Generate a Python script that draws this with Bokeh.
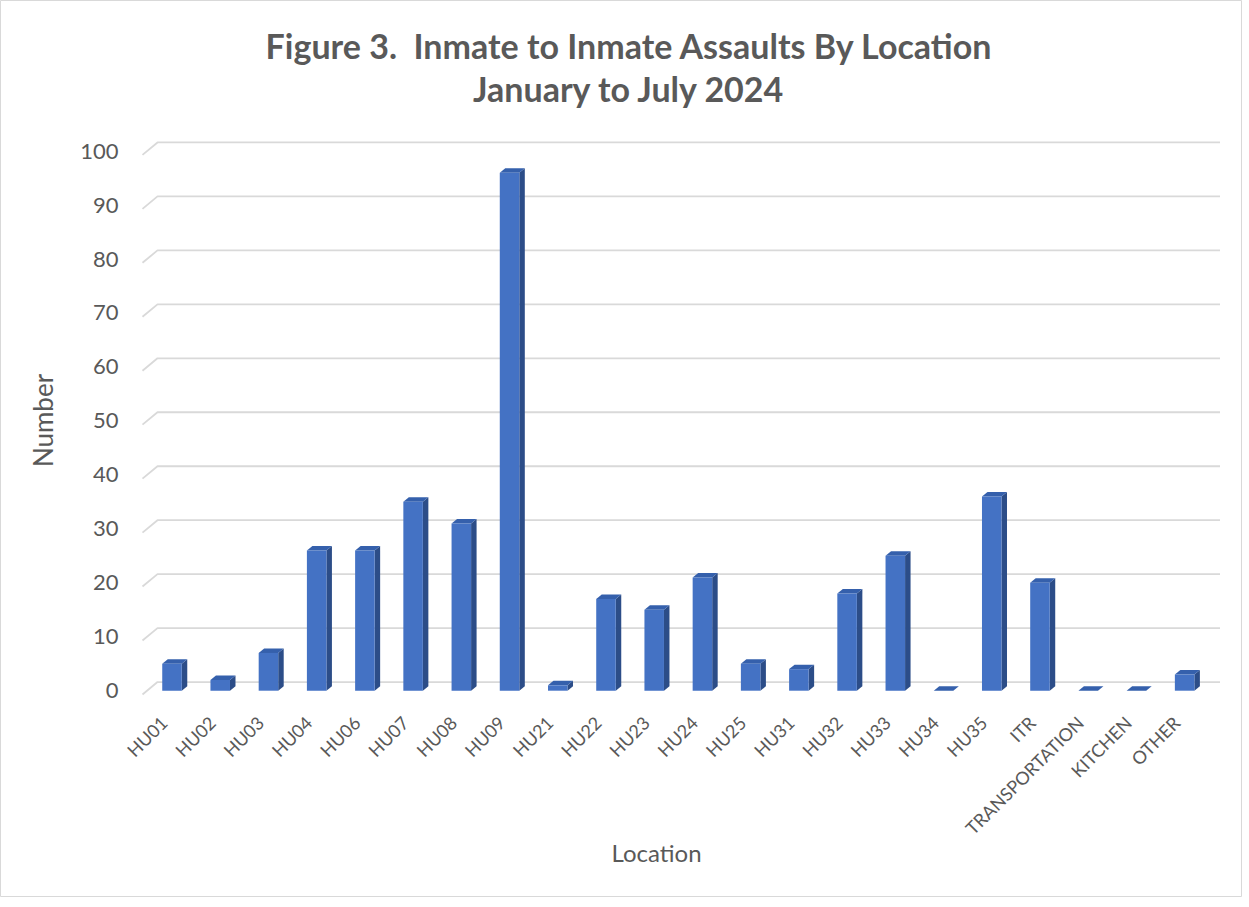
import math
from bokeh.plotting import figure
from bokeh.models import FixedTicker, Range1d, Label
from bokeh.embed import file_html
from bokeh.resources import INLINE

# ---- data ----
locations = ["HU01", "HU02", "HU03", "HU04", "HU06", "HU07", "HU08", "HU09",
             "HU21", "HU22", "HU23", "HU24", "HU25", "HU31", "HU32", "HU33",
             "HU34", "HU35", "ITR", "TRANSPORTATION", "KITCHEN", "OTHER"]
counts = [5, 2, 7, 26, 26, 35, 31, 96, 1, 17, 15, 21, 5, 4, 18, 25, 0, 36, 20, 0, 0, 3]
y_ticks = [0, 10, 20, 30, 40, 50, 60, 70, 80, 90, 100]

title_line1 = "Figure 3.\u00a0 Inmate to Inmate Assaults By Location"
title_line2 = "January to July 2024"
x_title = "Location"
y_title = "Number"

# ---- style ----
FONT = "Lato"
TXT = "#595959"
FRONT = "#4472C4"
SIDE = "#2C4D88"
TOP = "#3560AC"
GRID = "#D9D9D9"

W, H = 1242, 897
PX_X = 48.22   # pixels per category
PX_Y = 5.396   # pixels per unit
X0_PX = 163.5  # pixel of first tick
Y0_PX = 690.2  # pixel of value 0

# pseudo-3D geometry (in data units)
shift = 0.166      # bar centre offset from tick (depth of bar row)
hw = 0.2025        # half width of front face
ddx = 0.114        # depth offset x
ddy = 0.83         # depth offset y
g_front_x, g_back_x, g_end_x = -0.446, -0.135, 21.9
g_front_dy, g_back_dy = -0.7, 1.6
y_axis_at = -0.591
x_axis_at = -2.0

p = figure(width=W, height=H,
           x_range=Range1d(-X0_PX / PX_X, (W - X0_PX) / PX_X),
           y_range=Range1d(-(H - Y0_PX) / PX_Y, Y0_PX / PX_Y),
           output_backend="svg", toolbar_location=None,
           min_border=0, min_border_left=0, min_border_right=0,
           min_border_top=0, min_border_bottom=0)
p.outline_line_color = "#D9D9D9"
p.xgrid.visible = False
p.ygrid.visible = False

# gridlines (back wall + floor edge)
gx = [[g_front_x, g_back_x, g_end_x] for v in y_ticks]
gy = [[v + g_front_dy, v + g_back_dy, v + g_back_dy] for v in y_ticks]
p.multi_line(gx, gy, line_color=GRID, line_width=1.8)

# bars
n = len(locations)
cx = [i + shift for i in range(n)]
lefts = [c - hw for c in cx]
rights = [c + hw for c in cx]

side_xs = [[r, r + ddx, r + ddx, r] for r in rights]
side_ys = [[0, ddy, v + ddy, v] for v in counts]
p.patches(side_xs, side_ys, fill_color=SIDE, line_color=None)

top_xs = [[l, l + ddx, r + ddx, r] for l, r in zip(lefts, rights)]
top_ys = [[v, v + ddy, v + ddy, v] for v in counts]
p.patches(top_xs, top_ys, fill_color=TOP, line_color=None)

p.quad(left=lefts, right=rights, bottom=[0] * n, top=counts,
       fill_color=FRONT, line_color=None)

# x axis
xa = p.xaxis[0]
xa.fixed_location = x_axis_at
xa.ticker = FixedTicker(ticks=list(range(n)))
xa.major_label_overrides = {i: name for i, name in enumerate(locations)}
xa.major_label_orientation = math.pi / 4
xa.axis_line_color = None
xa.major_tick_line_color = None
xa.minor_tick_line_color = None
xa.major_label_text_font = FONT
xa.major_label_text_font_size = "18px"
xa.major_label_text_color = TXT
xa.major_label_standoff = 12

# y axis
ya = p.yaxis[0]
ya.fixed_location = y_axis_at
ya.ticker = FixedTicker(ticks=y_ticks)
ya.axis_line_color = None
ya.major_tick_line_color = None
ya.minor_tick_line_color = None
ya.major_label_text_font = FONT
ya.major_label_text_font_size = "22px"
ya.major_label_text_color = TXT
ya.major_label_standoff = 11

# titles as screen-positioned labels
common = dict(x_units="screen", y_units="screen", text_font=FONT,
              text_color=TXT, text_align="center", text_baseline="middle")
p.add_layout(Label(x=629, y=H - 45, text=title_line1, text_font_size="34px",
                   text_font_style="bold", **common))
p.add_layout(Label(x=629, y=H - 88, text=title_line2, text_font_size="34px",
                   text_font_style="bold", **common))
p.add_layout(Label(x=656, y=H - 852, text=x_title, text_font_size="24px", **common))
p.add_layout(Label(x=42, y=H - 420, text=y_title, text_font_size="26px",
                   angle=math.pi / 2, **common))

open("out.html", "w").write(file_html(p, INLINE))
